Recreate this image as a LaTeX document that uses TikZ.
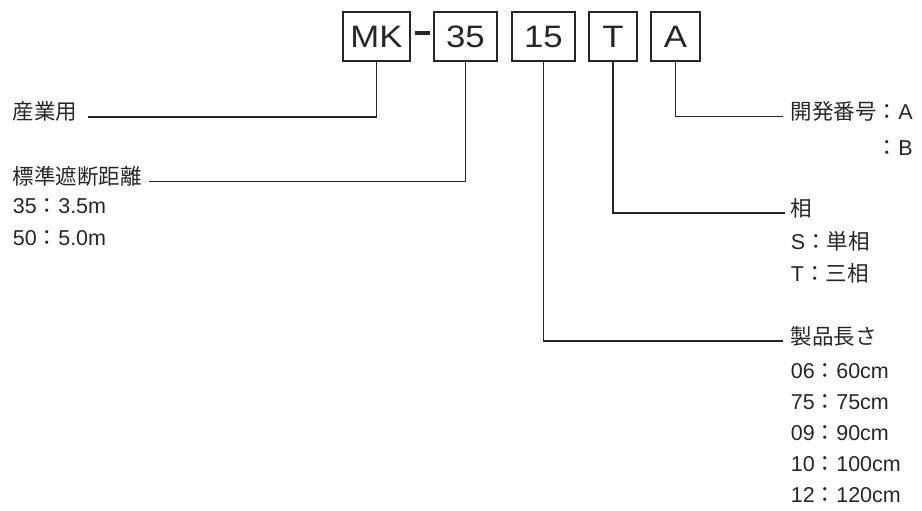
\documentclass[tikz,border=0pt]{standalone}
\usepackage{fontspec}
\setmainfont{Liberation Sans}
\newfontfamily\boxfont{Liberation Sans}[FakeStretch=1.12]
\newfontfamily\jp{Noto Sans CJK JP}
\usetikzlibrary{positioning}

\begin{document}
\begin{tikzpicture}[x=1pt, y=-1pt, line width=1.8pt, draw=black!85,
    code/.style={draw, line width=1.3pt, minimum height=49pt, inner sep=0pt, text=black!85, font=\boxfont\fontsize{31}{31}\selectfont},
    lbl/.style={anchor=west, inner sep=0pt, text height=0.8em, text depth=0.2em, text=black!85, font=\fontsize{21.5}{24}\selectfont}]
    \useasboundingbox (0,0) rectangle (922,511);
    % code boxes
    \node[code, minimum width=67pt] at (376.5,36.5) (mk) {MK};
    \node[fill=black!85, minimum width=15pt, minimum height=4pt, inner sep=0pt] at (422.5,33) (hyph) {};
    \node[code, minimum width=63pt] at (465.5,36.5) (dist) {35};
    \node[code, minimum width=63pt] at (543.5,36.5) (len) {15};
    \node[code, minimum width=48pt] at (613,36.5) (ph) {T};
    \node[code, minimum width=49pt] at (675.5,36.5) (dev) {A};

    % left labels
    \node[lbl] at (12,117) (sangyo) {\jp 産業用};
    \node[lbl] at (12,181.5) (kyori) {\jp 標準遮断距離};
    \node[lbl] at (12,210.5) (k35) {35\jp ：\rm 3.5m};
    \node[lbl] at (12,242) (k50) {50\jp ：\rm 5.0m};

    % right labels
    \node[lbl] at (790,116.5) (kaihatsu) {\jp 開発番号：\rm A};
    \node[lbl, anchor=east] at (kaihatsu.east |- 0,152) (devb) {\jp ：\rm B};
    \node[lbl] at (790,213) (sou) {\jp 相};
    \node[lbl] at (790,246.5) (souS) {S\jp ：単相};
    \node[lbl] at (790,278) (souT) {T\jp ：三相};
    \node[lbl] at (790,341) (nagasa) {\jp 製品長さ};
    \node[lbl] at (790,375) (n06) {06\jp ：\rm 60cm};
    \node[lbl] at (790,406.5) (n75) {75\jp ：\rm 75cm};
    \node[lbl] at (790,437.5) (n09) {09\jp ：\rm 90cm};
    \node[lbl] at (790,468) (n10) {10\jp ：\rm 100cm};
    \node[lbl] at (790,499) (n12) {12\jp ：\rm 120cm};

    \draw (mk.south) |- ([xshift=10pt]sangyo.east);
    \draw (dist.south) |- ([xshift=6pt]kyori.east);
    \draw (dev.south) |- ([xshift=-7pt]kaihatsu.west);
    \draw (ph.south) |- ([xshift=-5pt]sou.west);
    \draw (len.south) |- ([xshift=-7pt]nagasa.west);
\end{tikzpicture}
\end{document}
